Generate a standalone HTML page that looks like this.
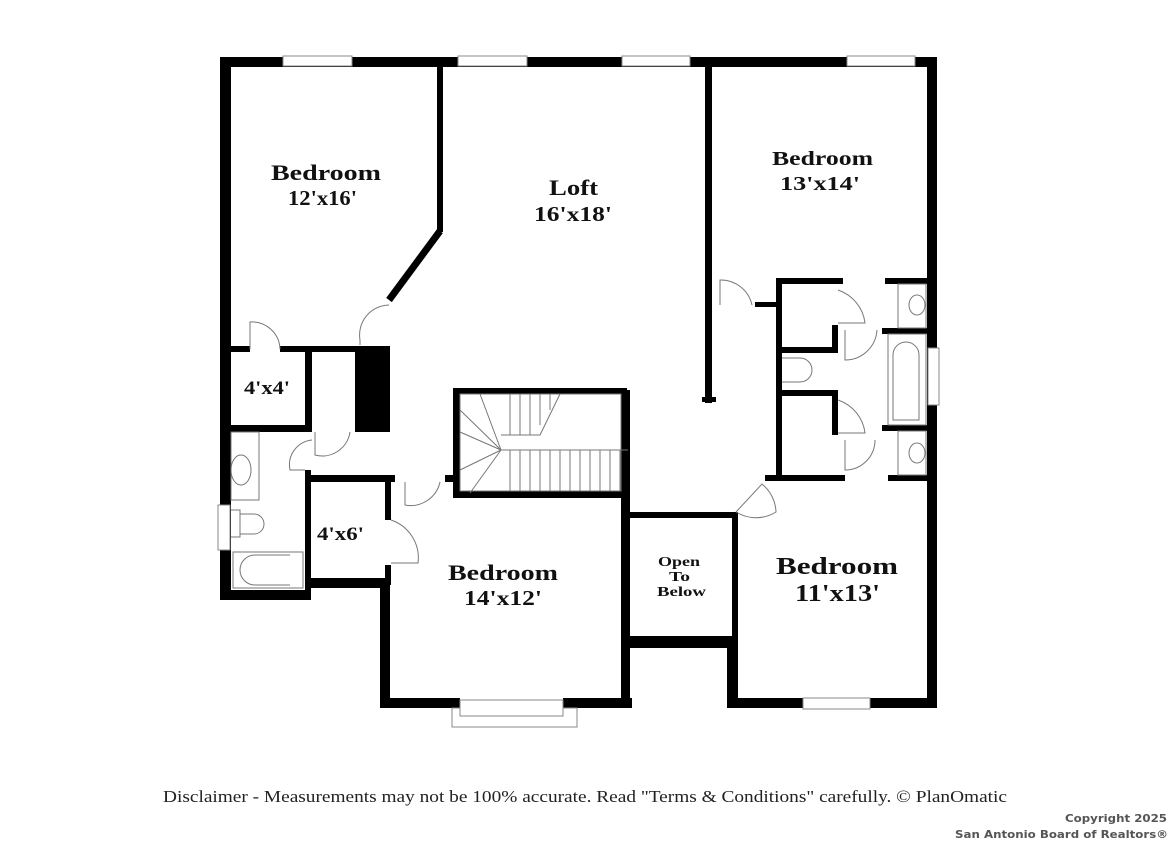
<!DOCTYPE html>
<html><head><meta charset="utf-8"><style>
html,body{margin:0;padding:0;background:#fff;}
svg{display:block;}
.t{font-family:"Liberation Serif",serif;font-weight:bold;fill:#111;}
</style></head><body>
<svg width="1170" height="843" viewBox="0 0 1170 843" xmlns="http://www.w3.org/2000/svg">
<g fill="#000">
<rect x="220" y="57" width="717" height="10"/>
<rect x="220" y="57" width="11" height="543"/>
<rect x="927" y="57" width="10" height="651"/>
<rect x="220" y="590" width="91" height="10"/>
<rect x="305" y="578" width="85" height="10"/>
<rect x="380" y="578" width="10" height="130"/>
<rect x="380" y="698" width="80" height="10"/>
<rect x="563" y="698" width="69" height="10"/>
<rect x="621" y="390" width="9" height="318"/>
<rect x="621" y="636" width="117" height="12"/>
<rect x="727" y="636" width="11" height="72"/>
<rect x="727" y="698" width="210" height="10"/>
<rect x="437" y="67" width="6" height="165"/>
<line x1="440" y1="231" x2="389" y2="300" stroke="#000" stroke-width="7"/>
<rect x="230" y="346" width="20" height="6"/>
<rect x="280" y="346" width="110" height="6"/>
<rect x="305" y="346" width="7" height="86"/>
<rect x="230" y="425" width="82" height="7"/>
<rect x="355" y="346" width="35" height="86"/>
<rect x="305" y="470" width="6" height="120"/>
<rect x="305" y="475" width="90" height="7"/>
<rect x="385" y="475" width="6" height="45"/>
<rect x="385" y="565" width="6" height="20"/>
<rect x="445" y="475" width="12" height="7"/>
<rect x="453" y="388" width="173" height="6"/>
<rect x="453" y="388" width="7" height="110"/>
<rect x="453" y="491" width="177" height="7"/>
<rect x="621" y="388" width="6" height="62"/>
<rect x="621" y="512" width="117" height="6"/>
<rect x="732" y="512" width="6" height="130"/>
<rect x="705" y="67" width="7" height="336"/>
<rect x="702" y="397" width="14" height="5"/>
<rect x="755" y="302" width="22" height="5"/>
<rect x="776" y="278" width="67" height="6"/>
<rect x="776" y="278" width="6" height="203"/>
<rect x="776" y="347" width="62" height="6"/>
<rect x="832" y="325" width="6" height="28"/>
<rect x="776" y="390" width="62" height="6"/>
<rect x="832" y="390" width="6" height="45"/>
<rect x="765" y="475" width="80" height="6"/>
<rect x="885" y="278" width="42" height="6"/>
<rect x="882" y="328" width="45" height="6"/>
<rect x="882" y="425" width="45" height="6"/>
<rect x="888" y="475" width="39" height="6"/>
</g>
<g fill="#fff" stroke="#888" stroke-width="1">
<rect x="283" y="56" width="69" height="10"/><rect x="458" y="56" width="69" height="10"/>
<rect x="622" y="56" width="68" height="10"/><rect x="847" y="56" width="68" height="10"/>
<rect x="218" y="505" width="12" height="45"/><rect x="928" y="348" width="11" height="57"/>
<rect x="803" y="698" width="67" height="11"/>
<rect x="452" y="708" width="125" height="19"/><rect x="460" y="700" width="103" height="16"/>
</g>
<g fill="none" stroke="#777" stroke-width="1">
<path d="M250 349 V322 A28 28 0 0 1 280 349"/>
<path d="M360 340 A30 30 0 0 1 389 305 M360 340 V345"/>
<path d="M315 432 V455 A28 28 0 0 0 350 432"/>
<path d="M305 470 H290 A25 25 0 0 1 312 440"/>
<path d="M405 482 V505 A30 30 0 0 0 440 482"/>
<path d="M391 520 A40 40 0 0 1 418 563 H391"/>
<path d="M720 305 V280 A32 32 0 0 1 752 305"/>
<path d="M838 290 A40 40 0 0 1 865 323 H838"/>
<path d="M845 330 V360 A32 32 0 0 0 877 330"/>
<path d="M838 400 A40 40 0 0 1 865 433 H838"/>
<path d="M845 440 V470 A30 30 0 0 0 875 440"/>
<path d="M736 512 L762 484 A38 38 0 0 1 776 512 A38 38 0 0 1 736 512"/>
<rect x="231" y="432" width="28" height="68"/><ellipse cx="241" cy="470" rx="10" ry="15"/>
<path d="M231 510 H240 V537 H231 M240 514 H254 A10 10 0 0 1 254 534 H240"/>
<rect x="233" y="552" width="70" height="36"/><path d="M290 555 H255 A15 15 0 0 0 255 585 H290"/>
<rect x="898" y="284" width="28" height="44"/><ellipse cx="917" cy="305" rx="8" ry="10"/>
<rect x="888" y="334" width="38" height="91"/><path d="M893 420 V355 A13 13 0 0 1 919 355 V420 Z"/>
<rect x="898" y="431" width="28" height="44"/><ellipse cx="917" cy="453" rx="8" ry="10"/>
<path d="M782 358 H800 A10 10 0 0 1 800 382 H782"/>
<rect x="460" y="394" width="161" height="97"/>
<path d="M501 450 H628 M501 435 H540 L560 394"/>
<path d="M460 410 L501 450 M460 432 L501 450 M460 470 L501 450 M480 394 L501 450 M470 493 L501 450"/>
<path d="M510 394V435M520 394V435M530 394V435M540 394V425M550 394V410 M510 450V491M520 450V491M530 450V491M540 450V491M550 450V491M560 450V491M570 450V491M580 450V491M590 450V491M600 450V491M610 450V491M620 450V491"/>
</g>
<g class="t" lengthAdjust="spacingAndGlyphs">
<text x="271" y="180" font-size="22" textLength="110" lengthAdjust="spacingAndGlyphs">Bedroom</text>
<text x="288" y="205" font-size="21" textLength="69" lengthAdjust="spacingAndGlyphs">12'x16'</text>
<text x="549" y="195" font-size="22" textLength="49" lengthAdjust="spacingAndGlyphs">Loft</text>
<text x="534" y="221" font-size="21" textLength="78" lengthAdjust="spacingAndGlyphs">16'x18'</text>
<text x="772" y="165" font-size="20" textLength="101" lengthAdjust="spacingAndGlyphs">Bedroom</text>
<text x="780" y="190" font-size="20" textLength="80" lengthAdjust="spacingAndGlyphs">13'x14'</text>
<text x="244" y="394" font-size="19" textLength="46" lengthAdjust="spacingAndGlyphs">4'x4'</text>
<text x="317" y="540" font-size="19" textLength="47" lengthAdjust="spacingAndGlyphs">4'x6'</text>
<text x="448" y="580" font-size="22" textLength="110" lengthAdjust="spacingAndGlyphs">Bedroom</text>
<text x="464" y="605" font-size="21" textLength="78" lengthAdjust="spacingAndGlyphs">14'x12'</text>
<text x="658" y="566" font-size="14" textLength="42" lengthAdjust="spacingAndGlyphs">Open</text>
<text x="669" y="581" font-size="14" textLength="21" lengthAdjust="spacingAndGlyphs">To</text>
<text x="657" y="596" font-size="14" textLength="49" lengthAdjust="spacingAndGlyphs">Below</text>
<text x="776" y="574" font-size="24" textLength="122" lengthAdjust="spacingAndGlyphs">Bedroom</text>
<text x="795" y="601" font-size="24" textLength="85" lengthAdjust="spacingAndGlyphs">11'x13'</text>
</g>
<text x="163" y="802" font-family="Liberation Serif,serif" font-size="17" fill="#222" textLength="844" lengthAdjust="spacingAndGlyphs">Disclaimer - Measurements may not be 100% accurate. Read "Terms &amp; Conditions" carefully. © PlanOmatic</text>
<g font-family="DejaVu Sans,sans-serif" font-weight="bold" font-size="11" fill="#555">
<text x="1065" y="822" textLength="102" lengthAdjust="spacingAndGlyphs">Copyright 2025</text>
<text x="955" y="838" textLength="213" lengthAdjust="spacingAndGlyphs">San Antonio Board of Realtors®</text>
</g>
</svg>
</body></html>
